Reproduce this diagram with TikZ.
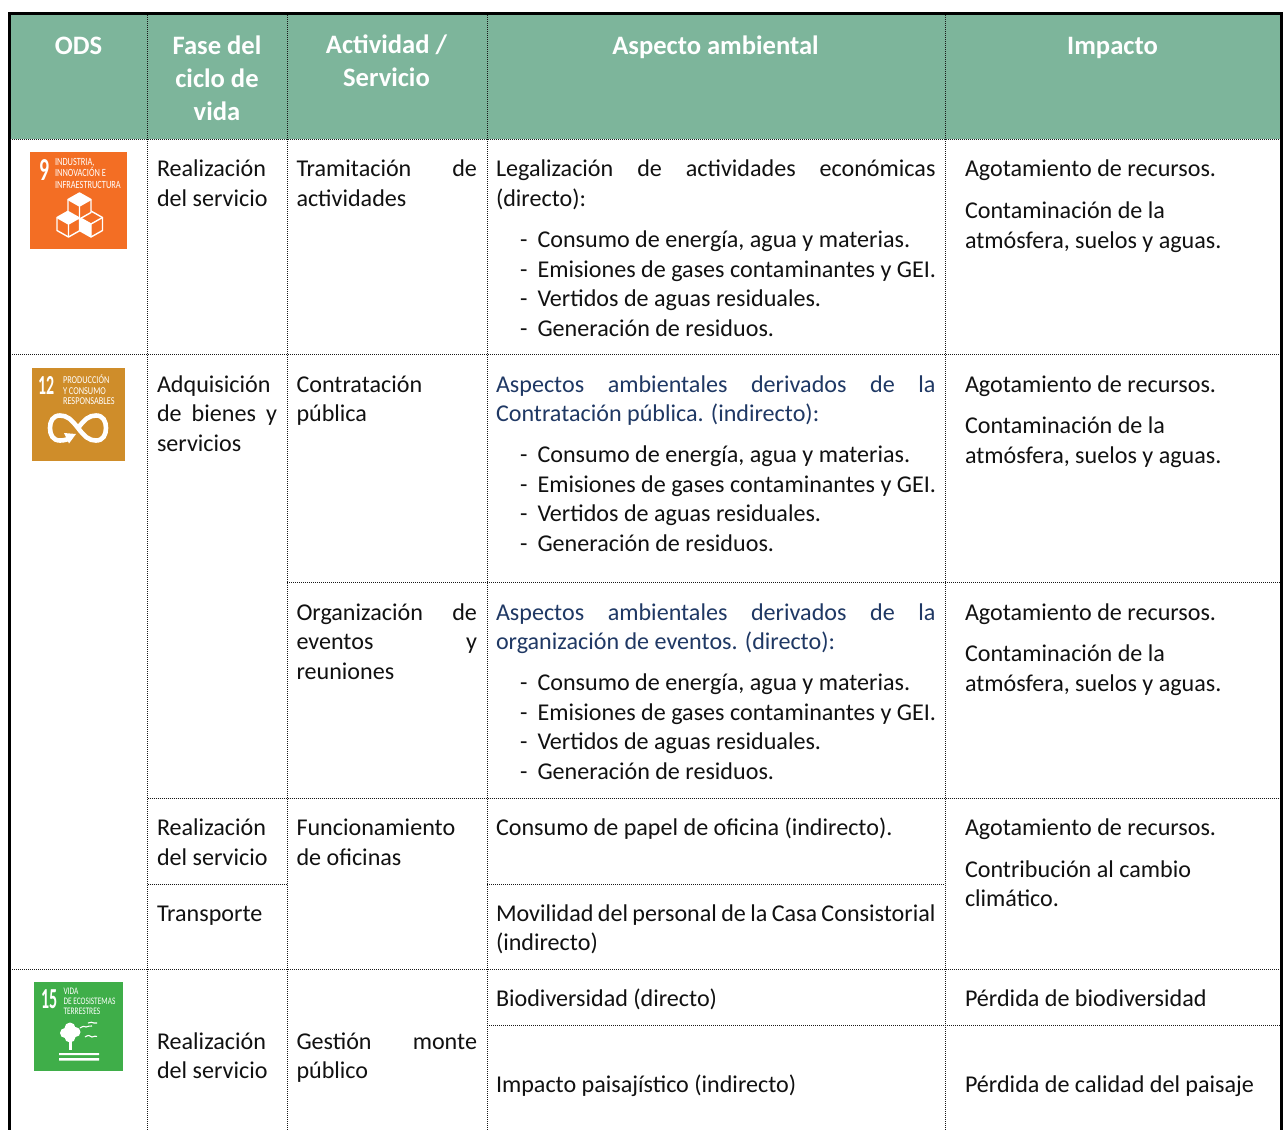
\documentclass[tikz,border=0pt]{standalone}
\usepackage{fontspec}
\setmainfont{Carlito}
\definecolor{hdr}{HTML}{7DB59B}
\definecolor{nav}{HTML}{1F3864}
\definecolor{ink}{HTML}{111111}
\definecolor{ods9}{HTML}{F36E24}
\definecolor{ods12}{HTML}{CF8D2A}
\definecolor{ods15}{HTML}{3FAE49}
\newcommand{\jline}[2]{\makebox[#1pt][s]{#2}}
\newcommand{\cubeicon}[2]{%
 \fill[ods9] (#1,#2) -- (#1+11.5,#2+6.5) -- (#1+11.5,#2+19.5) -- (#1,#2+26) -- (#1-11.5,#2+19.5) -- (#1-11.5,#2+6.5) -- cycle;
 \draw[icon] (#1,#2) -- (#1+11.5,#2+6.5) -- (#1+11.5,#2+19.5) -- (#1,#2+26) -- (#1-11.5,#2+19.5) -- (#1-11.5,#2+6.5) -- cycle;
 \draw[icon] (#1-11.5,#2+6.5) -- (#1,#2+13) -- (#1+11.5,#2+6.5) (#1,#2+13) -- (#1,#2+26);
}
\tikzset{
 x=1pt,y=-1pt,
 txt/.style={anchor=base west,inner sep=0pt,outer sep=0pt,yshift=-0.5pt,font=\fontsize{24.1}{29.5}\selectfont,text=ink},
 blue/.style={txt,text=nav},
 head/.style={anchor=base,inner sep=0pt,outer sep=0pt,font=\fontsize{26.6}{33}\selectfont\bfseries,text=white},
 grid/.style={line width=1pt,black!90,dash pattern=on 1pt off 1pt},
 frame/.style={line width=3.4pt,black},
 mini/.style={anchor=north west,inner sep=0pt,outer sep=0pt,align=left,text=white},
 num/.style={anchor=base west,inner sep=0pt,outer sep=0pt,text=white},
 icon/.style={white,line width=1.4pt,line join=round},
}
\begin{document}
\begin{tikzpicture}
\useasboundingbox (0,0) rectangle (1283,1130);
\fill[white] (0,0) rectangle (1283,1130);
\fill[hdr] (10,14) rectangle (1281,139);
% grid
\foreach \xx in {147.5,287,487,945} \draw[grid] (\xx,15) -- (\xx,1130);
\draw[grid] (10,139) -- (1281,139);
\draw[grid] (10,354.5) -- (1281,354.5);
\draw[grid] (287,582.5) -- (1281,582.5);
\draw[grid] (147.5,798) -- (1281,798);
\draw[grid] (147.5,884) -- (287,884);
\draw[grid] (487,884) -- (945,884);
\draw[grid] (10,969.5) -- (1281,969.5);
\draw[grid] (487,1025.5) -- (1281,1025.5);
% frame
\draw[frame] (9.6,1130) -- (9.6,13.5) -- (1281.4,13.5) -- (1281.4,1130);
% header
\node[head] (h1) at (78.5,54) {ODS};
\node[head] (h2a) at (217,54) {Fase del};
\node[head] (h2b) at (217,87) {ciclo de};
\node[head] (h2c) at (217,120) {vida};
\node[head] (h3a) at (386.5,53) {Actividad /};
\node[head] (h3b) at (386.5,86) {Servicio};
\node[head] (h4) at (715.5,54) {Aspecto ambiental};
\node[head] (h5) at (1112.5,54) {Impacto};
% ODS 9
\fill[ods9] (30,152) rectangle (127,249);
\node[num,font=\fontsize{32}{32}\selectfont\bfseries] (n9) at (39,180) {\scalebox{0.62}[1]{9}};
\node[mini,font=\fontsize{11}{11.6}\selectfont] (t9) at (55,158) {\scalebox{0.76}[1]{INDUSTRIA,}\\\scalebox{0.76}[1]{INNOVACIÓN E}\\\scalebox{0.76}[1]{INFRAESTRUCTURA}};
\cubeicon{68.5}{211}
\cubeicon{91}{211}
\cubeicon{79.5}{193}
\fill[white] (79.5,193) -- (91,199.5) -- (79.5,206) -- (68,199.5) -- cycle;
\fill[white] (68.5,211) -- (80,217.5) -- (68.5,224) -- (57,217.5) -- cycle;
\fill[white] (79.5,217.5) -- (91,224) -- (91,237) -- (79.5,230.5) -- cycle;
% ODS 12
\fill[ods12] (32,368) rectangle (125,461);
\node[num,font=\fontsize{27.5}{27.5}\selectfont\bfseries] (n12) at (38,394.5) {\scalebox{0.58}[1]{12}};
\node[mini,font=\fontsize{10.5}{10.6}\selectfont] (t12) at (63,375) {\scalebox{0.79}[1]{PRODUCCIÓN}\\\scalebox{0.79}[1]{Y CONSUMO}\\\scalebox{0.79}[1]{RESPONSABLES}};
\begin{scope}[shift={(78,428)}]
 \draw[white,line width=4.6pt] (0,0) .. controls (7,-9) and (11,-12.5) .. (18,-12.5) .. controls (25,-12.5) and (28,-7) .. (28,0) .. controls (28,7) and (25,12.5) .. (18,12.5) .. controls (11,12.5) and (7,9) .. (0,0) .. controls (-7,-9) and (-11,-12.5) .. (-18,-12.5) .. controls (-25,-12.5) and (-28,-7) .. (-28,0) .. controls (-28,7) and (-25,12.5) .. (-18,12.5) .. controls (-13,12.5) and (-9,11) .. (-7,9);
 \fill[white] (-14,5) -- (-2,6) -- (-9,15.5) -- cycle;
\end{scope}
% ODS 15
\fill[ods15] (34,982) rectangle (123,1071);
\node[num,font=\fontsize{29}{29}\selectfont\bfseries] (n15) at (41,1008) {\scalebox{0.55}[1]{15}};
\node[mini,font=\fontsize{10}{10}\selectfont] (t15) at (63.5,988.5) {\scalebox{0.74}[1]{VIDA}\\\scalebox{0.74}[1]{DE ECOSISTEMAS}\\\scalebox{0.74}[1]{TERRESTRES}};
\begin{scope}[shift={(70,1033)}]
 \fill[white] (0,-5) circle (5.5) (-5,0) circle (5) (5.5,-1) circle (5) (0,4) circle (5.5);
 \fill[white] (-1,6) rectangle (1.5,17);
 \fill[white] (-11,20) rectangle (29,22) (-11,25) rectangle (29,27.5);
 \draw[white,line width=1.1pt] (10,-5) .. controls (13,-7) and (15,-7) .. (16,-6) .. controls (18,-7) and (20,-7) .. (22,-7);
 \draw[white,line width=1.1pt] (18,-10) .. controls (20,-11) and (23,-11) .. (24,-10) .. controls (25,-10) and (26,-10) .. (27,-10);
 \draw[white,line width=1.1pt] (15,4) .. controls (18,2) and (20,2) .. (22,4) .. controls (24,3) and (26,3) .. (27,3.5);
\end{scope}
% column 2
\node[txt] (a1) at (157,176) {Realización};
\node[txt] (a2) at (157,205.5) {del servicio};
\node[txt] (b1) at (157,391.5) {Adquisición};
\node[txt] (b2) at (157,421) {\jline{120}{de bienes y}};
\node[txt] (b3) at (157,450.5) {servicios};
\node[txt] (c1) at (157,835) {Realización};
\node[txt] (c2) at (157,864.5) {del servicio};
\node[txt] (d1) at (157,920.5) {Transporte};
\node[txt] (e1) at (157,1048.5) {Realización};
\node[txt] (e2) at (157,1077.5) {del servicio};
% column 3
\node[txt] (f1) at (296.5,176) {\jline{180.5}{Tramitación de}};
\node[txt] (f2) at (296.5,205.5) {actividades};
\node[txt] (g1) at (296.5,391.5) {Contratación};
\node[txt] (g2) at (296.5,421) {pública};
\node[txt] (h1b) at (296.5,619.5) {\jline{180.5}{Organización de}};
\node[txt] (h2x) at (296.5,649) {\jline{180.5}{eventos y}};
\node[txt] (h3x) at (296.5,678.5) {reuniones};
\node[txt] (i1) at (296.5,835) {Funcionamiento};
\node[txt] (i2) at (296.5,864.5) {de oficinas};
\node[txt] (j1) at (296.5,1048.5) {\jline{180.5}{Gestión monte}};
\node[txt] (j2) at (296.5,1077.5) {público};
% column 4
\node[txt] (k1) at (496,176) {\jline{439.5}{Legalización de actividades económicas}};
\node[txt] (k2) at (496,205.5) {(directo):};
\node[txt] (k3) at (520,247) {-};\node[txt] (k3t) at (537.5,247) {Consumo de energía, agua y materias.};
\node[txt] (k4) at (520,276.5) {-};\node[txt] (k4t) at (537.5,276.5) {Emisiones de gases contaminantes y GEI.};
\node[txt] (k5) at (520,306) {-};\node[txt] (k5t) at (537.5,306) {Vertidos de aguas residuales.};
\node[txt] (k6) at (520,335.5) {-};\node[txt] (k6t) at (537.5,335.5) {Generación de residuos.};
\node[blue] (l1) at (496,391.5) {\jline{439.5}{Aspectos ambientales derivados de la}};
\node[blue] (l2) at (496,421) {Contratación pública. (indirecto):};
\node[txt] (l3) at (520,462) {-};\node[txt] (l3t) at (537.5,462) {Consumo de energía, agua y materias.};
\node[txt] (l4) at (520,492) {-};\node[txt] (l4t) at (537.5,492) {Emisiones de gases contaminantes y GEI.};
\node[txt] (l5) at (520,521) {-};\node[txt] (l5t) at (537.5,521) {Vertidos de aguas residuales.};
\node[txt] (l6) at (520,551) {-};\node[txt] (l6t) at (537.5,551) {Generación de residuos.};
\node[blue] (m1) at (496,619.5) {\jline{439.5}{Aspectos ambientales derivados de la}};
\node[blue] (m2) at (496,648.5) {organización de eventos. (directo):};
\node[txt] (m3) at (520,690) {-};\node[txt] (m3t) at (537.5,690) {Consumo de energía, agua y materias.};
\node[txt] (m4) at (520,720) {-};\node[txt] (m4t) at (537.5,720) {Emisiones de gases contaminantes y GEI.};
\node[txt] (m5) at (520,749) {-};\node[txt] (m5t) at (537.5,749) {Vertidos de aguas residuales.};
\node[txt] (m6) at (520,779) {-};\node[txt] (m6t) at (537.5,779) {Generación de residuos.};
\node[txt] (n1) at (496,835) {Consumo de papel de oficina (indirecto).};
\node[txt] (o1) at (496,920.5) {\jline{439.5}{Movilidad del personal de la Casa Consistorial}};
\node[txt] (o2) at (496,950) {(indirecto)};
\node[txt] (p1) at (496,1006) {Biodiversidad (directo)};
\node[txt] (q1) at (496,1091.5) {Impacto paisajístico (indirecto)};
% column 5
\node[txt] (r1) at (965,176) {Agotamiento de recursos.};
\node[txt] (r2) at (965,218) {Contaminación de la};
\node[txt] (r3) at (965,247.5) {atmósfera, suelos y aguas.};
\node[txt] (s1) at (965,391.5) {Agotamiento de recursos.};
\node[txt] (s2) at (965,433) {Contaminación de la};
\node[txt] (s3) at (965,463) {atmósfera, suelos y aguas.};
\node[txt] (u1) at (965,619.5) {Agotamiento de recursos.};
\node[txt] (u2) at (965,661) {Contaminación de la};
\node[txt] (u3) at (965,690.5) {atmósfera, suelos y aguas.};
\node[txt] (v1) at (965,835) {Agotamiento de recursos.};
\node[txt] (v2) at (965,877) {Contribución al cambio};
\node[txt] (v3) at (965,906) {climático.};
\node[txt] (w1) at (965,1006) {Pérdida de biodiversidad};
\node[txt] (w2) at (965,1091.5) {Pérdida de calidad del paisaje};
\end{tikzpicture}
\end{document}
